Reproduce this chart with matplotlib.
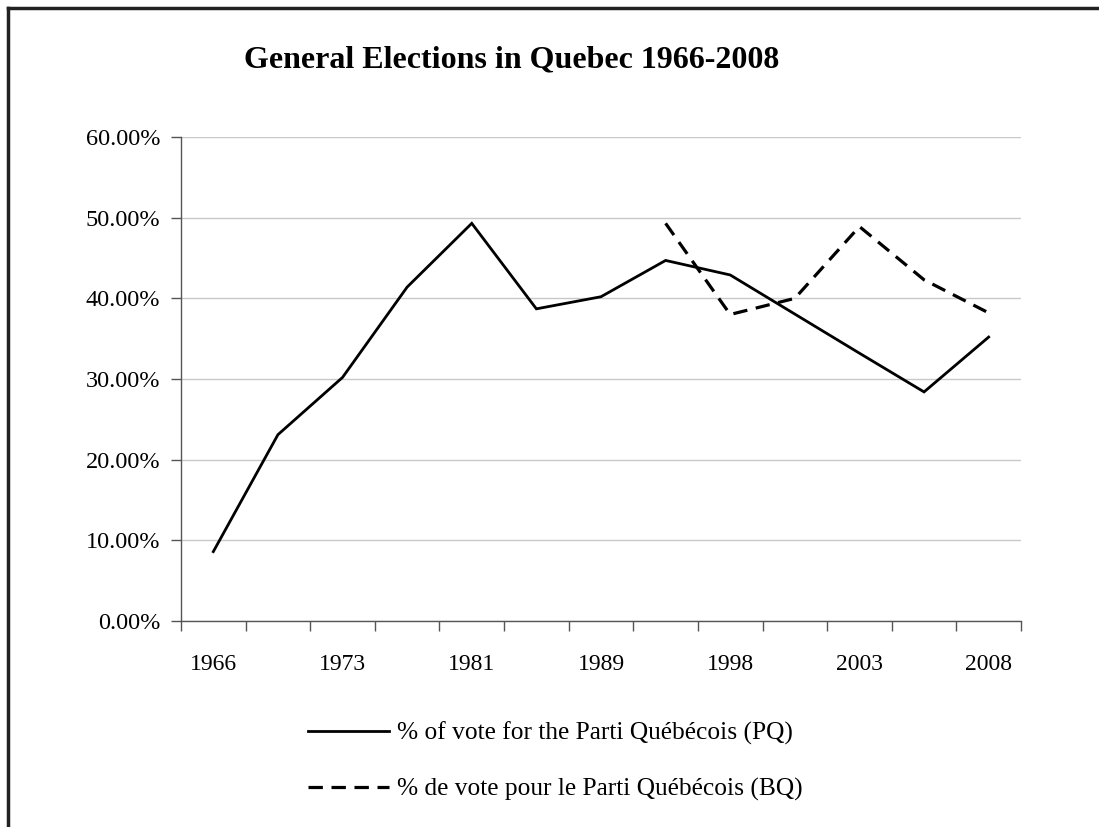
import matplotlib
matplotlib.use('Agg')
import matplotlib.pyplot as plt
from matplotlib.lines import Line2D
import numpy as np

plt.rcParams['font.family'] = ['Liberation Serif', 'DejaVu Serif']

# Categories on the x axis (Quebec / federal election years combined)
categories = ['1966', '1970', '1973', '1976', '1981', '1985', '1989',
              '1994', '1998', '2000', '2003', '2007', '2008']
# % of vote for the Parti Quebecois (provincial); no election in 2000
pq_vote = [8.6, 23.1, 30.2, 41.4, 49.3, 38.7, 40.2,
           44.7, 42.9, np.nan, 33.2, 28.4, 35.2]
# % of vote for the Bloc Quebecois (federal)
bq_vote = [np.nan, np.nan, np.nan, np.nan, np.nan, np.nan, np.nan,
           49.3, 38.0, 40.0, 48.9, 42.3, 38.2]
y_ticks = [0, 10, 20, 30, 40, 50, 60]

fig = plt.figure(figsize=(10.99, 8.27), dpi=100)
ax = fig.add_axes([0.1647, 0.2491, 0.7643, 0.5852])

x = np.arange(len(categories))
pq = np.array(pq_vote)
bq = np.array(bq_vote)
m_pq = ~np.isnan(pq)
m_bq = ~np.isnan(bq)
ax.plot(x[m_pq], pq[m_pq], color='black', lw=2.0, solid_joinstyle='miter',
        label='% of vote for the Parti Québécois (PQ)')
ax.plot(x[m_bq], bq[m_bq], color='black', lw=2.3, ls=(0, (4.5, 2.7)),
        label='% de vote pour le Parti Québécois (BQ)')

ax.set_xlim(-0.5, len(categories) - 0.5)
ax.set_ylim(0, 60)
ax.set_yticks(y_ticks)
ax.set_yticklabels([f'{v:.2f}%' for v in y_ticks])
ax.set_xticks(x[::2])
ax.set_xticklabels(categories[::2])
ax.set_xticks(np.arange(-0.5, len(categories), 1.0), minor=True)
ax.tick_params(axis='x', which='major', length=0, pad=24, labelsize=17)
ax.tick_params(axis='x', which='minor', length=7, color='#555555', width=1)
ax.tick_params(axis='y', length=7, color='#555555', width=1, labelsize=17.5, pad=8)
ax.yaxis.grid(True, color='#c8c8c8', lw=1)
ax.set_axisbelow(True)
for s in ['top', 'right']:
    ax.spines[s].set_visible(False)
for s in ['left', 'bottom']:
    ax.spines[s].set_color('#555555')
    ax.spines[s].set_linewidth(1)

fig.text(0.466, 0.927, 'General Elections in Quebec 1966-2008', ha='center',
         va='center', fontsize=23, fontweight='bold')

leg = fig.legend(loc='center', bbox_to_anchor=(0.505, 0.079), ncol=1,
                 frameon=False, fontsize=18.3, handlelength=3.2,
                 handletextpad=0.3, labelspacing=1.3)

# chart area frame (cut off at right and bottom)
fig.add_artist(Line2D([8 / 1099, 1], [1 - 8 / 827] * 2, color='#222222', lw=2.5,
                      transform=fig.transFigure))
fig.add_artist(Line2D([8 / 1099] * 2, [0, 1 - 8 / 827], color='#222222', lw=2.5,
                      transform=fig.transFigure))

fig.savefig('out.png', dpi=100, facecolor='white')
